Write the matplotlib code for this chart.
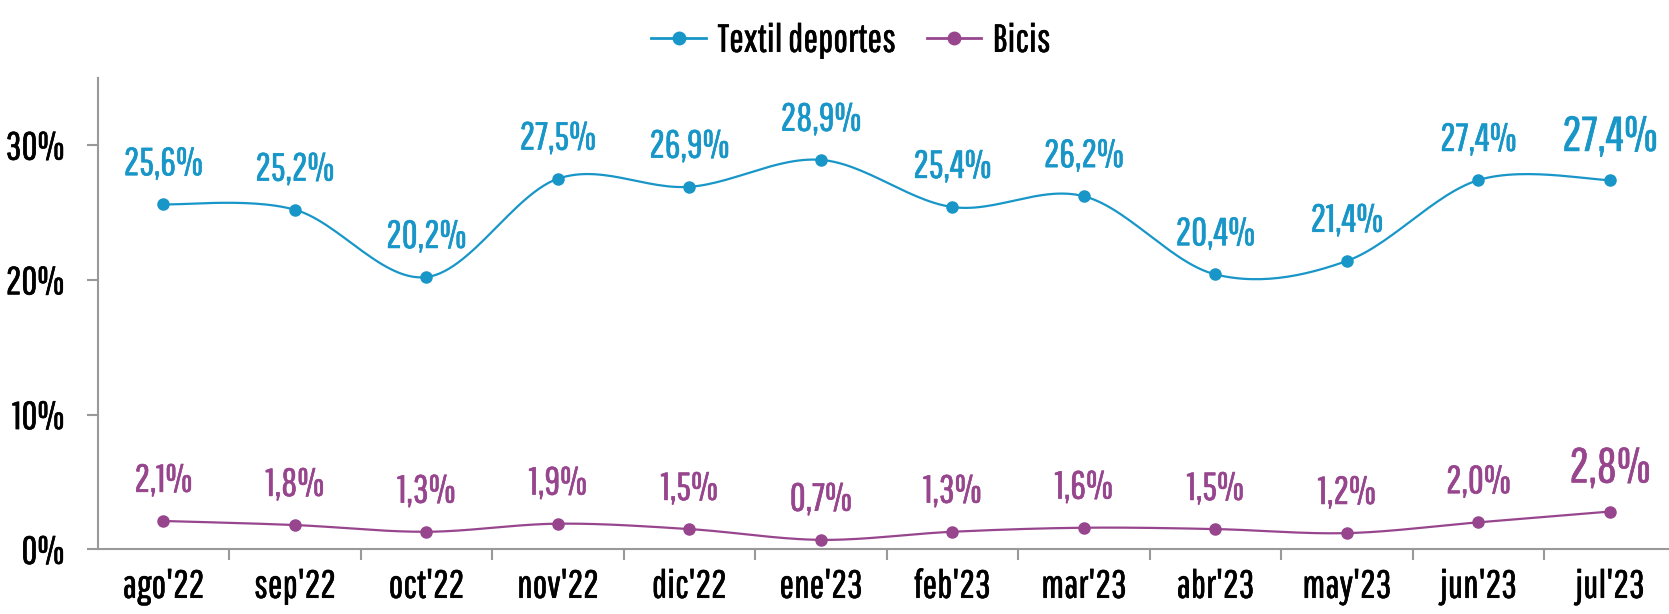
import numpy as np
import matplotlib
matplotlib.use("Agg")
import matplotlib.pyplot as plt
import matplotlib.patheffects as pe
from matplotlib import font_manager

categories = ["ago'22", "sep'22", "oct'22", "nov'22", "dic'22", "ene'23",
              "feb'23", "mar'23", "abr'23", "may'23", "jun'23", "jul'23"]
textil = [25.6, 25.2, 20.2, 27.5, 26.9, 28.9, 25.4, 26.2, 20.4, 21.4, 27.4, 27.4]
bicis = [2.1, 1.8, 1.3, 1.9, 1.5, 0.7, 1.3, 1.6, 1.5, 1.2, 2.0, 2.8]
yticks = [0, 10, 20, 30]

names = {f.name for f in font_manager.fontManager.ttflist}
fam = 'DejaVu Sans'
for cand in ['Pathway Gothic One', 'Sofia Sans Extra Condensed', 'Oswald', 'Sofia Sans Condensed']:
    if cand in names:
        fam = cand
        break
plt.rcParams['font.family'] = [fam, 'DejaVu Sans']

BLUE = "#1896C8"
PURPLE = "#97468E"
FS = 28


def bold(col):
    return [pe.withStroke(linewidth=0.45, foreground=col)]


def smooth(x, y, n=30):
    x = np.asarray(x, float)
    y = np.asarray(y, float)
    xs, ys = [], []
    for i in range(len(x) - 1):
        p0 = np.array([x[max(i - 1, 0)], y[max(i - 1, 0)]])
        p1 = np.array([x[i], y[i]])
        p2 = np.array([x[i + 1], y[i + 1]])
        p3 = np.array([x[min(i + 2, len(x) - 1)], y[min(i + 2, len(x) - 1)]])
        c1 = p1 + (p2 - p0) / 6.0
        c2 = p2 - (p3 - p1) / 6.0
        t = np.linspace(0, 1, n)[:, None]
        pts = ((1 - t) ** 3) * p1 + 3 * ((1 - t) ** 2) * t * c1 + 3 * (1 - t) * t ** 2 * c2 + t ** 3 * p2
        xs.append(pts[:, 0])
        ys.append(pts[:, 1])
    return np.concatenate(xs), np.concatenate(ys)


fig = plt.figure(figsize=(16.69, 6.14), dpi=100)
ax = fig.add_axes([0.0585, 0.1054, 0.9455, 0.7681])

x = np.arange(len(categories))
for vals, col, lab in [(textil, BLUE, "Textil deportes"), (bicis, PURPLE, "Bicis")]:
    sx, sy = smooth(x, vals)
    ax.plot(sx, sy, color=col, lw=1.6, zorder=2)
    ax.plot(x, vals, 'o', color=col, ms=8, zorder=3)
    ax.plot([], [], '-o', color=col, lw=2, ms=9, label=lab)
    for i, v in enumerate(vals):
        last = i == len(vals) - 1
        ax.annotate(f"{v:.1f}%".replace('.', ','), (x[i], v), xytext=(0, 21),
                    textcoords='offset points', ha='center', va='baseline',
                    color=col, fontsize=FS * 1.25 if last else FS,
                    path_effects=bold(col))

ax.set_xlim(-0.5, 11.5)
ax.set_ylim(0, 35)
ax.set_yticks(yticks)
ax.set_yticklabels([f"{t}%" for t in yticks], fontsize=FS)
ax.set_xticks(x)
ax.set_xticklabels(categories, fontsize=FS)
ax.set_xticks(np.arange(0.5, 11.5, 1.0), minor=True)
ax.tick_params(axis='x', which='major', length=0, pad=14)
ax.tick_params(axis='x', which='minor', length=8, width=1.5, color='#999999')
ax.tick_params(axis='y', length=8, width=1.5, color='#999999', pad=16)
for lbl in ax.get_xticklabels() + ax.get_yticklabels():
    lbl.set_path_effects(bold('black'))
for s in ['top', 'right']:
    ax.spines[s].set_visible(False)
for s in ['left', 'bottom']:
    ax.spines[s].set_color('#999999')
    ax.spines[s].set_linewidth(1.5)

leg = fig.legend(loc='upper center', bbox_to_anchor=(0.51, 1.02), ncol=2, frameon=False,
                 fontsize=FS, handlelength=1.4, columnspacing=0.8, handletextpad=0.3)
for t in leg.get_texts():
    t.set_path_effects(bold('black'))

fig.savefig("out.png", dpi=100)
